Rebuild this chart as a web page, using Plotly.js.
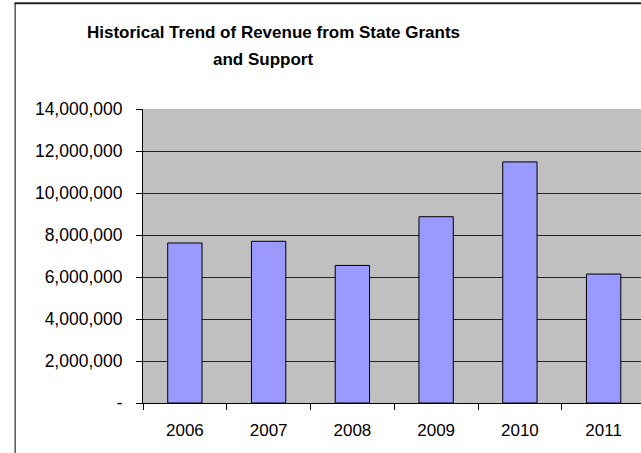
<!DOCTYPE html>
<html>
<head>
<meta charset="utf-8">
<script src="https://cdn.plot.ly/plotly-3.0.1.min.js"></script>
<style>
html,body{margin:0;padding:0;background:#fff;}
#chart{width:641px;height:453px;}
</style>
</head>
<body>
<div id="chart"></div>
<script>
const years = ['2006', '2007', '2008', '2009', '2010', '2011'];
const revenue = [7620000, 7700000, 6550000, 8870000, 11480000, 6140000];
const yTickValues = [0, 2000000, 4000000, 6000000, 8000000, 10000000, 12000000, 14000000];
const yTickLabels = ['-', '2,000,000', '4,000,000', '6,000,000', '8,000,000', '10,000,000', '12,000,000', '14,000,000'];
const titleLine1 = 'Historical Trend of Revenue from State Grants';
const titleLine2 = 'and Support';

const W = 641, H = 453;
const ml = 143.3, mt = 109.3, mb = 49.7, mr = 0;
const pw = W - ml - mr, ph = H - mt - mb;
const px = v => (v - ml) / pw;
const py = v => (H - mb - v) / ph;
const catW = 83.7;
const visibleCats = pw / catW;

const font = 'Arial, "Liberation Sans", sans-serif';

const trace = {
  type: 'bar',
  x: years,
  y: revenue,
  marker: {color: '#9999FF', line: {color: '#000000', width: 1}},
  hoverinfo: 'x+y'
};

const layout = {
  width: W, height: H,
  margin: {l: ml, r: mr, t: mt, b: mb, pad: 0},
  paper_bgcolor: '#ffffff',
  plot_bgcolor: '#C0C0C0',
  showlegend: false,
  bargap: 0.59,
  font: {family: font, size: 17, color: '#000'},
  title: {
    text: '<b>' + titleLine1 + '</b>',
    font: {family: font, size: 17, color: '#000'},
    xref: 'container', x: 273.5 / W, xanchor: 'center',
    yref: 'container', y: 1 - 26 / H, yanchor: 'top'
  },
  annotations: [{
    text: '<b>' + titleLine2 + '</b>',
    font: {family: font, size: 17, color: '#000'},
    xref: 'paper', x: px(263.5), xanchor: 'center',
    yref: 'paper', y: py(60), yanchor: 'middle',
    showarrow: false
  }],
  xaxis: {
    type: 'category',
    range: [-0.5, -0.5 + visibleCats],
    showline: true, linecolor: '#000', linewidth: 1,
    ticks: 'outside', ticklen: 6, tickcolor: '#000', tickwidth: 1,
    tickson: 'boundaries',
    showgrid: false, zeroline: false,
    tickfont: {family: font, size: 17, color: '#000'},
    ticklabelstandoff: 12
  },
  yaxis: {
    range: [0, 14000000],
    tickvals: yTickValues,
    ticktext: yTickLabels,
    showline: true, linecolor: '#000', linewidth: 1,
    ticks: 'outside', ticklen: 6, tickcolor: '#000', tickwidth: 1,
    showgrid: true, gridcolor: '#222', gridwidth: 1,
    zeroline: false,
    tickfont: {family: font, size: 17.5, color: '#000'},
    ticklabelstandoff: 10
  },
  shapes: [
    {type: 'line', xref: 'paper', yref: 'paper', x0: px(15.5), x1: px(15.5), y0: py(3), y1: py(460), line: {color: '#000', width: 1}},
    {type: 'line', xref: 'paper', yref: 'paper', x0: px(15), x1: px(660), y0: py(3.5), y1: py(3.5), line: {color: '#222', width: 2}}
  ]
};

Plotly.newPlot('chart', [trace], layout, {staticPlot: true, displayModeBar: false});
</script>
</body>
</html>
